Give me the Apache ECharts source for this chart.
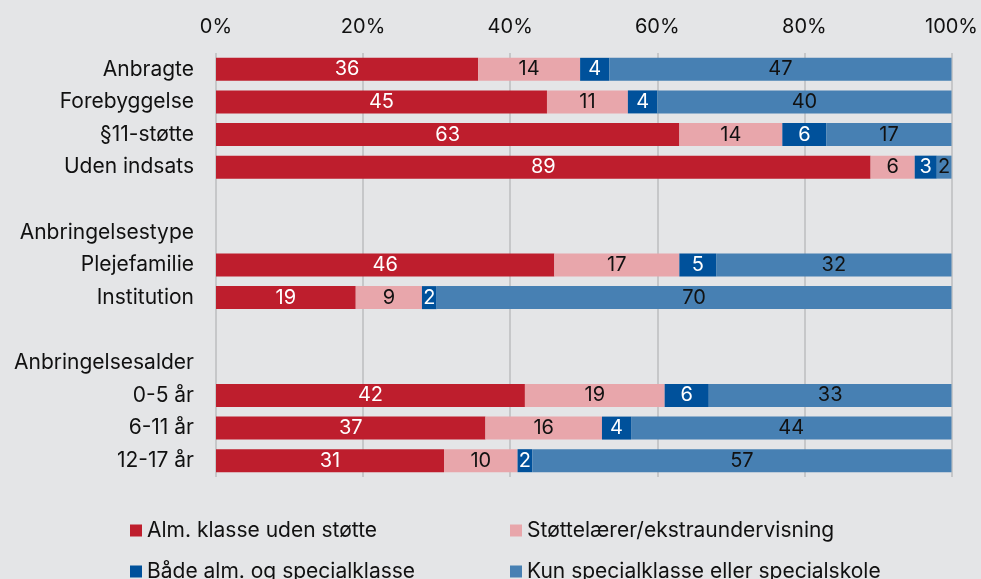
<!DOCTYPE html>
<html lang="da">
<head>
    <meta charset="UTF-8">
    <title>Skoletype</title>
    <script src="https://cdn.jsdelivr.net/npm/echarts@6/dist/echarts.min.js"></script>
    <style>
        html, body { margin: 0; padding: 0; background: #e4e5e7; }
        #container { width: 981px; height: 579px; }
    </style>
</head>
<body>
<div id="container"></div>
<script>
    var categories = ['Anbragte', 'Forebyggelse', '§11-støtte', 'Uden indsats', ' ',
        'Anbringelsestype', 'Plejefamilie', 'Institution', '  ',
        'Anbringelsesalder', '0-5 år', '6-11 år', '12-17 år'];
    var seriesNames = ['Alm. klasse uden støtte', 'Støttelærer/ekstraundervisning',
        'Både alm. og specialklasse', 'Kun specialklasse eller specialskole'];
    var almKlasse = [36, 45, 63, 89, null, null, 46, 19, null, null, 42, 37, 31];
    var stoettelaerer = [14, 11, 14, 6, null, null, 17, 9, null, null, 19, 16, 10];
    var baade = [4, 4, 6, 3, null, null, 5, 2, null, null, 6, 4, 2];
    var kunSpecial = [47, 40, 17, 2, null, null, 32, 70, null, null, 33, 44, 57];
    var xTicks = [0, 20, 40, 60, 80, 100];

    var colors = ['#be1e2d', '#e8a6ab', '#00519b', '#4780b3'];
    var labelColors = ['#ffffff', '#111111', '#ffffff', '#111111'];
    var raw = [almKlasse, stoettelaerer, baade, kunSpecial];

    // bars are drawn as share of the row total
    var totals = categories.map(function (c, i) {
        var s = 0;
        raw.forEach(function (arr) { if (arr[i] != null) s += arr[i]; });
        return s;
    });

    var series = raw.map(function (arr, k) {
        return {
            name: seriesNames[k],
            type: 'bar',
            stack: 'total',
            barWidth: 23,
            itemStyle: { color: colors[k] },
            label: {
                show: true,
                position: 'inside',
                color: labelColors[k],
                fontFamily: 'Inter',
                fontSize: 20,
                formatter: function (p) { return arr[p.dataIndex]; }
            },
            emphasis: { disabled: true },
            data: arr.map(function (v, i) { return v == null ? '-' : v / totals[i] * 100; })
        };
    });

    // one legend per item, laid out as two columns
    var legendPos = [[125, 515], [505, 515], [125, 556], [505, 556]];
    var legends = seriesNames.map(function (n, k) {
        return {
            left: legendPos[k][0], top: legendPos[k][1],
            itemWidth: 12, itemHeight: 12, icon: 'rect',
            textStyle: { fontFamily: 'Inter', fontSize: 21, color: '#111111' },
            data: [n]
        };
    });

    var chart = echarts.init(document.getElementById('container'));
    chart.setOption({
        backgroundColor: '#e4e5e7',
        animation: false,
        textStyle: { fontFamily: 'Inter' },
        grid: { left: 216, right: 27, top: 53, height: 424 },
        legend: legends,
        xAxis: {
            type: 'value',
            position: 'top',
            min: xTicks[0],
            max: xTicks[xTicks.length - 1],
            interval: 20,
            axisLine: { show: false },
            axisTick: { show: false },
            axisLabel: {
                formatter: '{value}%', color: '#111111', fontSize: 20, margin: 16,
                fontFamily: 'Inter'
            },
            splitLine: { lineStyle: { color: '#c6c7c9', width: 2 } }
        },
        yAxis: {
            type: 'category',
            inverse: true,
            data: categories,
            axisLine: { show: false },
            axisTick: { show: false },
            axisLabel: { color: '#111111', fontSize: 21, margin: 22, fontFamily: 'Inter' }
        },
        series: series
    });
</script>
</body>
</html>
